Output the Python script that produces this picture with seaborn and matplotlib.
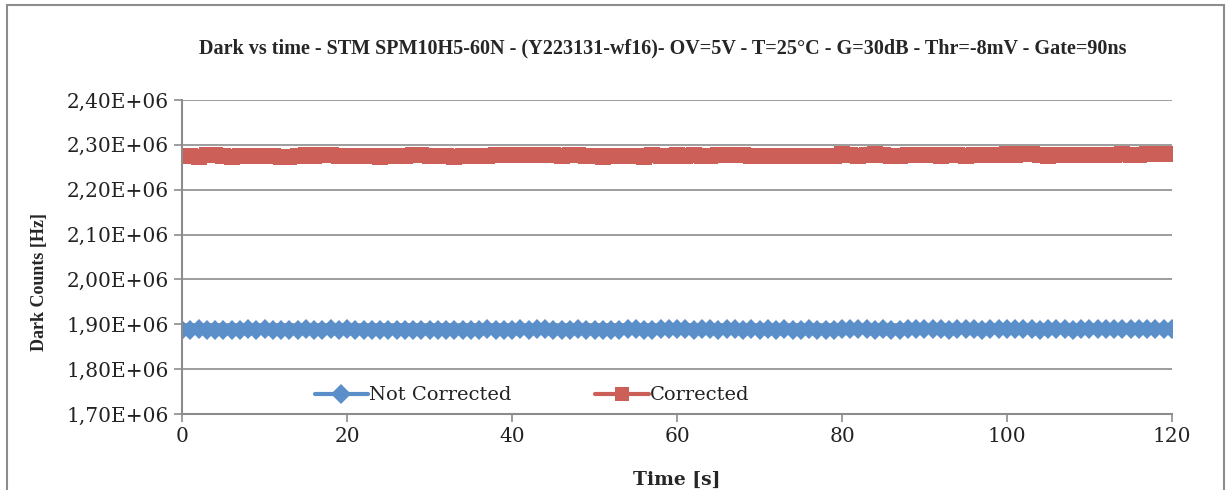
import numpy as np
import pandas as pd
import matplotlib
matplotlib.use('Agg')
import matplotlib.pyplot as plt
import seaborn as sns
from matplotlib.ticker import FuncFormatter, MultipleLocator
from matplotlib.patches import Rectangle

# Time axis (s), one reading per second
time_s = list(range(0, 121))

# Dark counts, in units of 1E+06 Hz
not_corrected = [
    1.8880, 1.8870, 1.8885, 1.8880, 1.8875, 1.8880, 1.8865, 1.8875, 1.8885, 1.8880,
    1.8885, 1.8880, 1.8865, 1.8875, 1.8880, 1.8885, 1.8880, 1.8875, 1.8885, 1.8880,
    1.8885, 1.8875, 1.8870, 1.8880, 1.8875, 1.8870, 1.8880, 1.8875, 1.8880, 1.8875,
    1.8880, 1.8875, 1.8880, 1.8865, 1.8875, 1.8880, 1.8875, 1.8885, 1.8880, 1.8875,
    1.8880, 1.8885, 1.8880, 1.8890, 1.8885, 1.8880, 1.8875, 1.8880, 1.8885, 1.8880,
    1.8875, 1.8865, 1.8875, 1.8880, 1.8885, 1.8895, 1.8880, 1.8870, 1.8885, 1.8890,
    1.8885, 1.8890, 1.8880, 1.8885, 1.8890, 1.8880, 1.8885, 1.8890, 1.8880, 1.8885,
    1.8880, 1.8885, 1.8880, 1.8885, 1.8880, 1.8875, 1.8885, 1.8880, 1.8875, 1.8870,
    1.8900, 1.8885, 1.8890, 1.8885, 1.8880, 1.8885, 1.8880, 1.8870, 1.8885, 1.8890,
    1.8885, 1.8890, 1.8885, 1.8880, 1.8885, 1.8890, 1.8885, 1.8880, 1.8885, 1.8890,
    1.8885, 1.8890, 1.8885, 1.8900, 1.8880, 1.8885, 1.8890, 1.8885, 1.8880, 1.8885,
    1.8890, 1.8885, 1.8890, 1.8885, 1.8890, 1.8885, 1.8890, 1.8885, 1.8890, 1.8885,
    1.8890,
]

corrected = [
    2.2760, 2.2745, 2.2735, 2.2770, 2.2765, 2.2750, 2.2730, 2.2740, 2.2760, 2.2755,
    2.2750, 2.2745, 2.2725, 2.2730, 2.2750, 2.2765, 2.2760, 2.2770, 2.2765, 2.2760,
    2.2755, 2.2745, 2.2740, 2.2750, 2.2735, 2.2745, 2.2760, 2.2755, 2.2770, 2.2765,
    2.2760, 2.2750, 2.2745, 2.2730, 2.2740, 2.2755, 2.2760, 2.2750, 2.2765, 2.2770,
    2.2765, 2.2770, 2.2775, 2.2780, 2.2770, 2.2765, 2.2760, 2.2770, 2.2765, 2.2755,
    2.2745, 2.2725, 2.2740, 2.2750, 2.2760, 2.2745, 2.2735, 2.2770, 2.2760, 2.2755,
    2.2765, 2.2760, 2.2770, 2.2755, 2.2760, 2.2765, 2.2770, 2.2775, 2.2765, 2.2760,
    2.2750, 2.2755, 2.2760, 2.2750, 2.2755, 2.2745, 2.2760, 2.2750, 2.2755, 2.2760,
    2.2790, 2.2765, 2.2760, 2.2770, 2.2790, 2.2765, 2.2745, 2.2740, 2.2765, 2.2770,
    2.2775, 2.2770, 2.2760, 2.2765, 2.2770, 2.2760, 2.2765, 2.2770, 2.2765, 2.2775,
    2.2790, 2.2780, 2.2785, 2.2795, 2.2770, 2.2760, 2.2775, 2.2770, 2.2780, 2.2775,
    2.2780, 2.2770, 2.2775, 2.2780, 2.2785, 2.2780, 2.2775, 2.2785, 2.2790, 2.2795,
    2.2785,
]

title = ('Dark vs time - STM SPM10H5-60N - (Y223131-wf16)- OV=5V - T=25\u00b0C - '
         'G=30dB - Thr=-8mV - Gate=90ns')

df = pd.DataFrame({
    'Time': time_s * 2,
    'Counts': [v * 1e6 for v in not_corrected] + [v * 1e6 for v in corrected],
    'Series': ['Not Corrected'] * len(time_s) + ['Corrected'] * len(time_s),
})

sns.set_theme(style='white')
plt.rcParams['font.family'] = ['DejaVu Serif', 'Liberation Serif']

fig = plt.figure(figsize=(12.31, 4.90), dpi=100)
ax = fig.add_axes([0.148, 0.155, 0.804, 0.641])

# outer chart border like the spreadsheet chart area
fig.patches.append(Rectangle((0.006, -0.01), 0.988, 1.0, transform=fig.transFigure,
                             fill=False, edgecolor='#8c8c8c', linewidth=1.5))

palette = {'Not Corrected': '#5A8FCA', 'Corrected': '#CC6058'}
sns.lineplot(data=df, x='Time', y='Counts', hue='Series', style='Series',
             markers={'Not Corrected': 'D', 'Corrected': 's'}, dashes=False,
             palette=palette, linewidth=3, markersize=10, markeredgewidth=0,
             ax=ax)
# squares a touch bigger than diamonds
for line in ax.get_lines():
    if line.get_marker() == 's':
        line.set_markersize(11)

ax.set_xlim(0, 120)
ax.set_ylim(1.70e6, 2.40e6)
ax.xaxis.set_major_locator(MultipleLocator(20))
ax.yaxis.set_major_locator(MultipleLocator(0.1e6))
ax.yaxis.set_major_formatter(FuncFormatter(
    lambda v, p: ('%.2fE+06' % (v / 1e6)).replace('.', ',')))

ax.grid(axis='y', color='#8c8c8c', linewidth=1.2)
ax.set_axisbelow(True)
for s in ['top', 'right']:
    ax.spines[s].set_visible(False)
for s in ['left', 'bottom']:
    ax.spines[s].set_color('#8c8c8c')
    ax.spines[s].set_linewidth(1.5)
ax.tick_params(axis='both', which='major', direction='out', length=6,
               width=1.2, color='#8c8c8c', labelsize=14.5, labelcolor='#222222')
ax.tick_params(axis='both', bottom=True, left=True)

ax.set_xlabel('Time [s]', fontsize=13.5, fontweight='bold', labelpad=18)
ax.set_ylabel('Dark Counts [Hz]', family='Liberation Serif', fontsize=13,
              fontweight='bold')
ax.yaxis.set_label_coords(-0.136, 0.42)
fig.text(0.538, 0.902, title, ha='center', va='center', fontsize=14.5,
         fontweight='bold', family='Liberation Serif')

leg = ax.legend(loc='lower left', bbox_to_anchor=(0.124, 0.0), ncol=2,
                frameon=False, fontsize=14, handlelength=2.75, handletextpad=0.05,
                columnspacing=4.3, borderaxespad=0.2, borderpad=0.3)
for h in leg.legend_handles:
    h.set_linewidth(3)
    h.set_markersize(10)
for t in leg.get_texts():
    t.set_color('#222222')

fig.savefig('out.png', dpi=100)
